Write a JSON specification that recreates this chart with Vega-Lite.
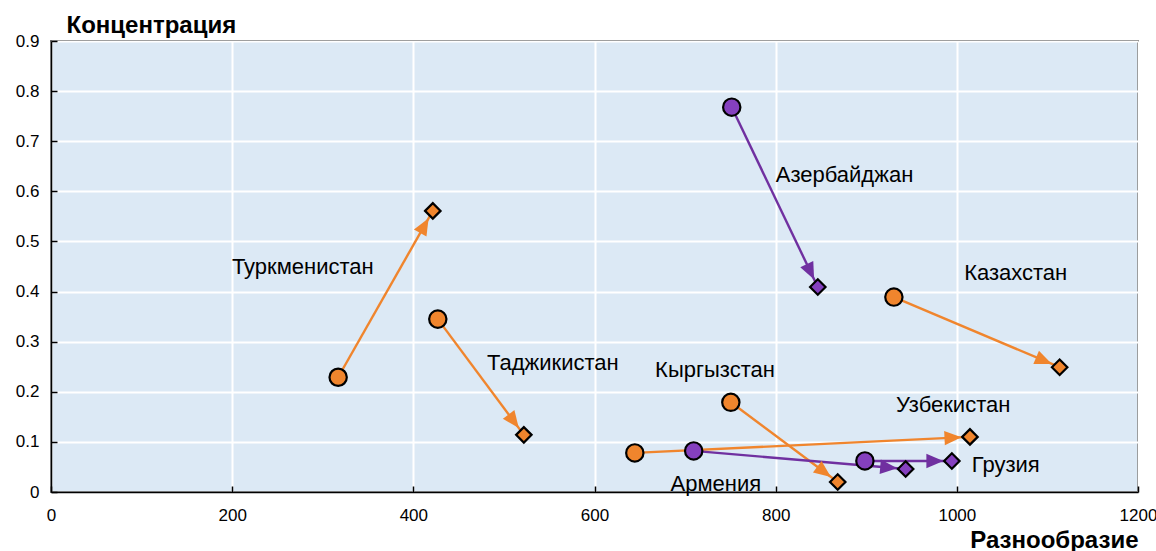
{
  "$schema": "https://vega.github.io/schema/vega-lite/v6.json",
  "width": 1087,
  "height": 451,
  "autosize": {"type": "none"},
  "padding": {"left": 51, "top": 41, "right": 18, "bottom": 59},
  "background": "white",
  "config": {
    "view": {"fill": "#DCE9F5", "stroke": "#000000", "strokeWidth": 1.5},
    "font": "Liberation Sans",
    "axis": {
      "labelFont": "Liberation Sans",
      "labelFontSize": 17,
      "labelColor": "#000000",
      "labelFlush": false,
      "labelOverlap": false,
      "titleFont": "Liberation Sans",
      "titleFontSize": 24,
      "titleFontWeight": "bold",
      "titleColor": "#000000",
      "gridColor": "#FFFFFF",
      "gridWidth": 2,
      "domainColor": "#000000",
      "domainWidth": 1.5,
      "tickColor": "#000000",
      "tickWidth": 1.5
    }
  },
  "data": {
    "values": [
      {"country": "Туркменистан", "group": "A", "x1": 317, "y1": 0.229, "x2": 421.5, "y2": 0.561, "lx": 278, "ly": 0.449},
      {"country": "Таджикистан", "group": "A", "x1": 427, "y1": 0.345, "x2": 522, "y2": 0.114, "lx": 554, "ly": 0.257},
      {"country": "Азербайджан", "group": "B", "x1": 751.5, "y1": 0.768, "x2": 846.5, "y2": 0.409, "lx": 876, "ly": 0.633},
      {"country": "Казахстан", "group": "A", "x1": 930.5, "y1": 0.389, "x2": 1113.5, "y2": 0.249, "lx": 1065, "ly": 0.437},
      {"country": "Кыргызстан", "group": "A", "x1": 750.5, "y1": 0.179, "x2": 868.5, "y2": 0.02, "lx": 733, "ly": 0.243},
      {"country": "Узбекистан", "group": "A", "x1": 644.5, "y1": 0.078, "x2": 1014.5, "y2": 0.11, "lx": 996, "ly": 0.173},
      {"country": "Армения", "group": "B", "x1": 709.5, "y1": 0.082, "x2": 943.5, "y2": 0.046, "lx": 734, "ly": 0.016},
      {"country": "Грузия", "group": "B", "x1": 898.5, "y1": 0.062, "x2": 994.5, "y2": 0.062, "lx": 1054, "ly": 0.054}
    ]
  },
  "layer": [
    {
      "mark": {"type": "rule", "strokeWidth": 2.4},
      "encoding": {
        "x": {
          "field": "x1", "type": "quantitative",
          "scale": {"domain": [0, 1200], "nice": false, "zero": false},
          "axis": {
            "values": [0, 200, 400, 600, 800, 1000, 1200],
            "format": "d",
            "tickSize": -6,
            "labelPadding": 21,
            "title": "Разнообразие",
            "titleAnchor": "end",
            "titleAlign": "right",
            "titleBaseline": "alphabetic",
            "titleX": 1087,
            "titleY": 55
          }
        },
        "y": {
          "field": "y1", "type": "quantitative",
          "scale": {"domain": [0, 0.9], "nice": false, "zero": false},
          "axis": {
            "values": [0, 0.1, 0.2, 0.3, 0.4, 0.5, 0.6, 0.7, 0.8, 0.9],
            "format": ".1~f",
            "tickSize": -6,
            "labelPadding": 18,
            "title": "Концентрация",
            "titleAngle": 0,
            "titleAlign": "left",
            "titleBaseline": "alphabetic",
            "titleX": 15,
            "titleY": -9
          }
        },
        "x2": {"field": "x2"},
        "y2": {"field": "y2"},
        "color": {
          "field": "group", "type": "nominal",
          "scale": {"domain": ["A", "B"], "range": ["#F0852D", "#7030A0"]},
          "legend": null
        }
      }
    },
    {
      "transform": [
        {"calculate": "atan2((datum.x2 - datum.x1) * 1087 / 1200, (datum.y2 - datum.y1) * 451 / 0.9) * 180 / PI", "as": "ang"}
      ],
      "mark": {"type": "point", "shape": "M0,0.85L-0.72,2.55L0.72,2.55Z", "filled": true, "opacity": 1, "size": 400, "strokeWidth": 0},
      "encoding": {
        "x": {"field": "x2", "type": "quantitative"},
        "y": {"field": "y2", "type": "quantitative"},
        "angle": {"field": "ang", "type": "quantitative", "scale": null},
        "color": {"field": "group", "type": "nominal", "legend": null}
      }
    },
    {
      "mark": {"type": "point", "shape": "circle", "filled": true, "opacity": 1, "size": 300, "stroke": "#000000", "strokeWidth": 2.2},
      "encoding": {
        "x": {"field": "x1", "type": "quantitative"},
        "y": {"field": "y1", "type": "quantitative"},
        "fill": {
          "field": "group", "type": "nominal",
          "scale": {"domain": ["A", "B"], "range": ["#F0852D", "#8540BF"]},
          "legend": null
        }
      }
    },
    {
      "mark": {"type": "point", "shape": "diamond", "filled": true, "opacity": 1, "size": 240, "stroke": "#000000", "strokeWidth": 2.2},
      "encoding": {
        "x": {"field": "x2", "type": "quantitative"},
        "y": {"field": "y2", "type": "quantitative"},
        "fill": {"field": "group", "type": "nominal", "legend": null}
      }
    },
    {
      "mark": {"type": "text", "font": "Liberation Sans", "fontSize": 22, "color": "#000000", "align": "center", "baseline": "middle"},
      "encoding": {
        "x": {"field": "lx", "type": "quantitative"},
        "y": {"field": "ly", "type": "quantitative"},
        "text": {"field": "country"}
      }
    }
  ]
}
